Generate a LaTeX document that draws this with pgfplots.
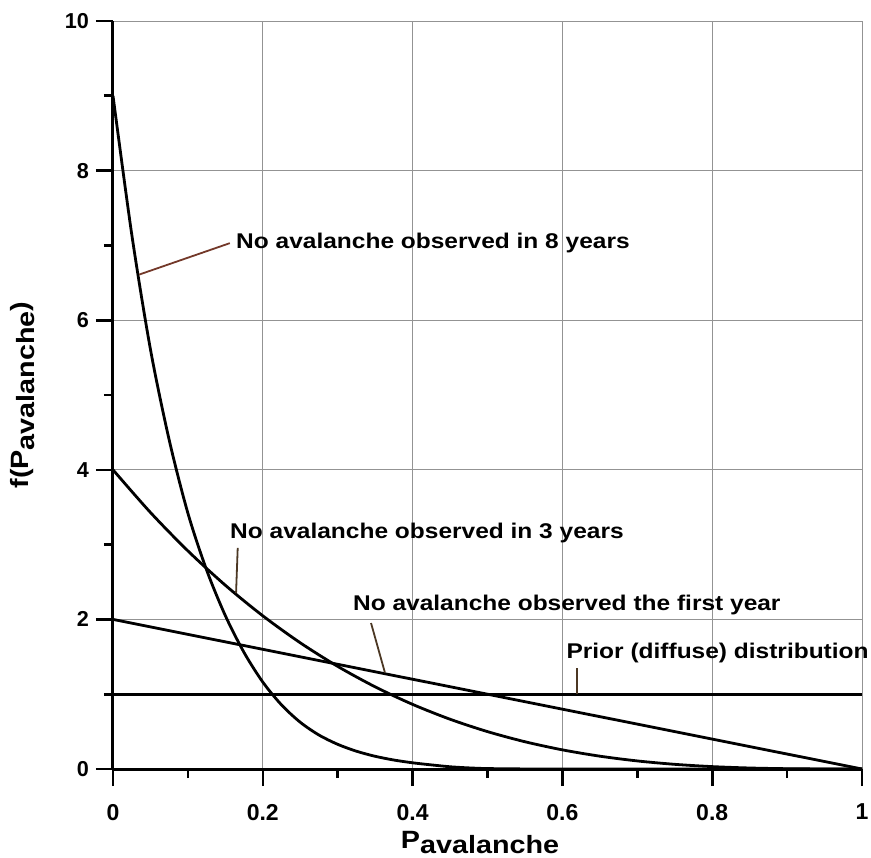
\documentclass[border=0pt]{standalone}
\usepackage{pgfplots}
\pgfplotsset{compat=1.18}
\usepackage{fontspec}
\setmainfont{Liberation Sans}
\newfontfamily\widefont{Liberation Sans}[FakeStretch=1.15]
\definecolor{leader}{rgb}{0.45,0.22,0.16}
\definecolor{leaderdark}{rgb}{0.30,0.22,0.14}
\newcommand{\annot}{\fontsize{10.65}{12}\widefont\bfseries}
\newcommand{\sub}[1]{\raisebox{-2.6pt}{#1}}
\begin{document}
\begin{tikzpicture}
\begin{axis}[
  scale only axis,
  width=374.5pt, height=374pt,
  xmin=0, xmax=1, ymin=0, ymax=10,
  axis x line*=bottom, axis y line*=left,
  axis line style={line width=1.5pt, -},
  xtick={0,0.2,0.4,0.6,0.8,1},
  ytick={0,2,4,6,8,10},
  minor x tick num=1, minor y tick num=1,
  tick align=outside,
  major tick length=8.5pt, minor tick length=4.5pt,
  tick style={line width=1.3pt, black},
  grid=major,
  grid style={line width=0.45pt, gray!85},
  /pgf/number format/assume math mode=true,
  xticklabel style={font=\fontsize{11.5}{12}\selectfont\bfseries, yshift=-5.5pt},
  yticklabel style={font=\fontsize{10.8}{12}\selectfont\bfseries},
  xticklabels={0,0.2,0.4,0.6,0.8,1},
  yticklabels={0,2,4,6,8,10},
  xlabel={P\sub{avalanche}},
  ylabel={f(P\sub{avalanche})},
  label style={font=\fontsize{12.5}{15}\widefont\bfseries},
  xlabel style={at={([yshift=-39.5pt]axis description cs:0.49,0)}, anchor=base},
  ylabel style={at={([xshift=-42pt]axis description cs:0,0.5)}, anchor=base, rotate=0},
  clip=false,
]
% uniform prior
\addplot[black, line width=1.4pt] coordinates {(0,1) (1,1)};
% one year without avalanche
\addplot[black, line width=1.4pt] coordinates {(0,2) (1,0)};
% three years without avalanche
\addplot[black, line width=1.4pt, smooth] coordinates {
 (0,4) (0.05,3.4295) (0.1,2.916) (0.15,2.4565) (0.2,2.048) (0.25,1.6875)
 (0.3,1.372) (0.35,1.0985) (0.4,0.864) (0.45,0.6655) (0.5,0.5) (0.55,0.3645)
 (0.6,0.256) (0.65,0.1715) (0.7,0.108) (0.75,0.0625) (0.8,0.032) (0.85,0.0135)
 (0.9,0.004) (0.95,0.0005) (1,0)};
% eight years without avalanche
\addplot[black, line width=1.4pt, smooth] coordinates {
 (0,9) (0.025,7.15) (0.05,5.61) (0.075,4.40) (0.1,3.42) (0.125,2.66)
 (0.15,2.05) (0.175,1.557) (0.2,1.162) (0.225,0.857) (0.25,0.625)
 (0.275,0.454) (0.3,0.330) (0.325,0.238) (0.35,0.170) (0.375,0.120)
 (0.4,0.083) (0.425,0.055) (0.45,0.03) (0.475,0.015) (0.5,0.006)
 (0.55,0.001) (0.6,0) (1,0)};
% annotations
\draw[leader, line width=0.9pt] (axis cs:0.035,6.61) -- (axis cs:0.156,7.03);
\node[anchor=west, font=\annot, inner sep=0pt]
  at (axis cs:0.164,7.03) {No avalanche observed in 8 years};
\draw[leaderdark, line width=0.9pt] (axis cs:0.1643,2.35) -- (axis cs:0.1665,2.955);
\node[anchor=west, font=\annot, inner sep=0pt]
  at (axis cs:0.156,3.155) {No avalanche observed in 3 years};
\draw[leaderdark, line width=0.9pt] (axis cs:0.363,1.29) -- (axis cs:0.3445,1.952);
\node[anchor=west, font=\annot, inner sep=0pt]
  at (axis cs:0.32,2.19) {No avalanche observed the first year};
\draw[leaderdark, line width=0.9pt] (axis cs:0.62,1) -- (axis cs:0.62,1.35);
\node[anchor=west, font=\annot, inner sep=0pt]
  at (axis cs:0.605,1.55) {Prior (diffuse) distribution};
\end{axis}
\pgfresetboundingbox
\path[use as bounding box] ([xshift=-56.5pt,yshift=-44pt]current axis.south west)
  rectangle ([xshift=4.5pt,yshift=10.5pt]current axis.north east);
\end{tikzpicture}
\end{document}
